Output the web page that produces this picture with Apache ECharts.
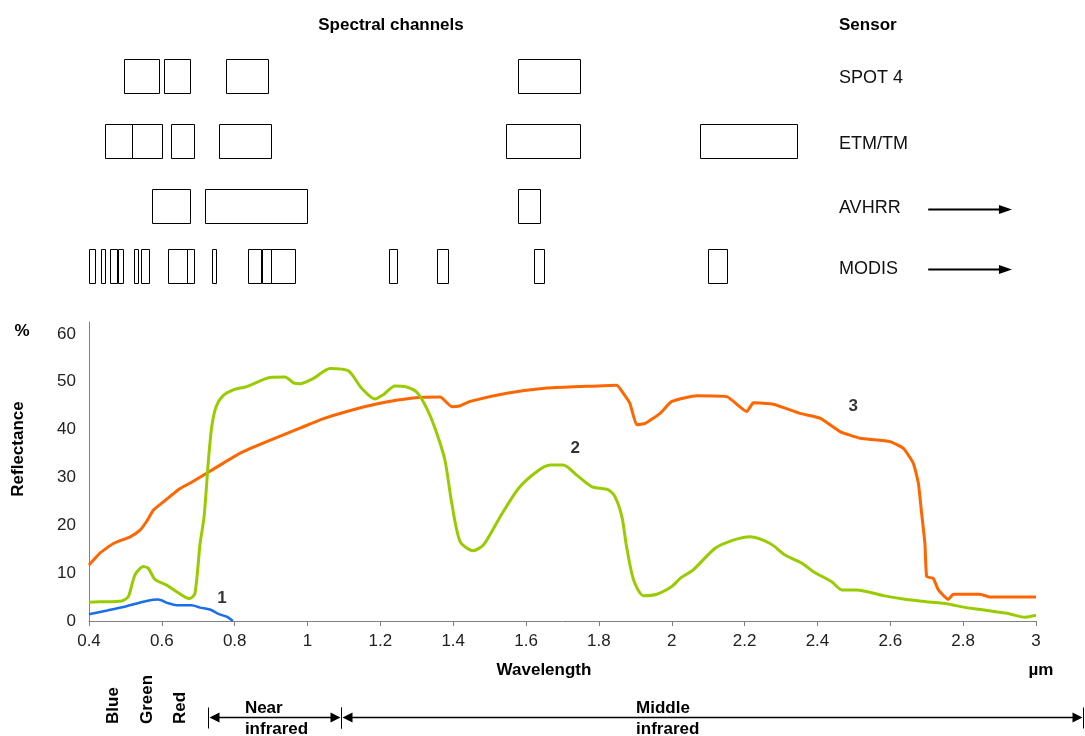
<!DOCTYPE html>
<html>
<head>
<meta charset="utf-8">
<script src="https://cdn.jsdelivr.net/npm/echarts@6/dist/echarts.min.js"></script>
<style>
html, body { margin: 0; padding: 0; background: #fff; }
#main { width: 1085px; height: 736px; }
</style>
</head>
<body>
<div id="main"></div>
<script>
var sensors = ['SPOT 4', 'ETM/TM', 'AVHRR', 'MODIS'];

// spectral channels: [from µm, to µm, sensor row]
var spotChannels = [[0.495, 0.59, 0], [0.607, 0.678, 0], [0.775, 0.89, 0], [1.577, 1.746, 0]];
var etmChannels = [[0.445, 0.519, 1], [0.519, 0.60, 1], [0.626, 0.689, 1], [0.757, 0.899, 1], [1.544, 1.746, 1], [2.078, 2.345, 1]];
var avhrrChannels = [[0.574, 0.678, 2], [0.719, 0.998, 2], [1.577, 1.638, 2]];
var modisChannels = [[0.40, 0.416, 3], [0.434, 0.446, 3], [0.457, 0.476, 3], [0.48, 0.493, 3], [0.523, 0.534, 3],
    [0.542, 0.564, 3], [0.618, 0.669, 3], [0.669, 0.688, 3], [0.739, 0.75, 3], [0.837, 0.874, 3],
    [0.874, 0.899, 3], [0.899, 0.965, 3], [1.225, 1.247, 3], [1.356, 1.385, 3], [1.623, 1.65, 3], [2.10, 2.153, 3]];
// sensors continuing beyond 3 µm: [from, to, row]
var sensorArrows = [[2.704, 2.934, 2], [2.704, 2.934, 3]];
var sensorLabelX = 2.459;

// reflectance curves: [wavelength µm, reflectance %]
var curve1 = [[0.4, 1.4], [0.45, 2.2], [0.503, 3.1], [0.558, 4.2], [0.59, 4.5], [0.618, 3.7], [0.641, 3.3],
    [0.682, 3.3], [0.705, 2.8], [0.732, 2.4], [0.755, 1.5], [0.778, 0.9], [0.795, 0]];
var curve2 = [[0.4, 3.9], [0.43, 4.0], [0.49, 4.2], [0.508, 5.1], [0.526, 9.6], [0.549, 11.4], [0.563, 11.0],
    [0.581, 8.7], [0.613, 7.5], [0.641, 6.1], [0.664, 5.0], [0.677, 4.7], [0.691, 5.8], [0.705, 16.2],
    [0.716, 21.8], [0.728, 33.7], [0.737, 40.6], [0.749, 44.8], [0.767, 47.0], [0.796, 48.3], [0.833, 49.0],
    [0.897, 50.9], [0.938, 51.0], [0.961, 49.8], [0.979, 49.6], [1.016, 50.7], [1.062, 52.8], [1.112, 52.3],
    [1.149, 48.6], [1.185, 46.4], [1.208, 47.3], [1.24, 49.1], [1.272, 48.9], [1.30, 47.8], [1.327, 44.5],
    [1.35, 40.3], [1.377, 33.7], [1.396, 24.6], [1.419, 16.6], [1.455, 14.7], [1.483, 15.9], [1.529, 21.8],
    [1.579, 27.7], [1.629, 31.2], [1.666, 32.6], [1.702, 32.6], [1.739, 30.5], [1.78, 28.1], [1.826, 27.4],
    [1.844, 26.0], [1.863, 21.8], [1.876, 15.5], [1.895, 8.6], [1.922, 5.3], [1.959, 5.6], [2.0, 7.2],
    [2.023, 8.9], [2.059, 10.7], [2.119, 15.2], [2.165, 16.8], [2.215, 17.6], [2.27, 16.2], [2.311, 13.8],
    [2.357, 12.1], [2.389, 10.3], [2.439, 8.2], [2.467, 6.5], [2.508, 6.5], [2.581, 5.3], [2.636, 4.6],
    [2.70, 4.0], [2.755, 3.6], [2.801, 2.9], [2.865, 2.2], [2.92, 1.6], [2.97, 0.8], [3.0, 1.2]];
var curve3 = [[0.4, 11.7], [0.43, 14.2], [0.467, 16.2], [0.513, 17.6], [0.54, 19.0], [0.558, 20.8], [0.577, 23.2],
    [0.604, 24.9], [0.65, 27.7], [0.677, 28.8], [0.723, 30.9], [0.769, 33.0], [0.815, 35.1], [0.888, 37.5],
    [0.979, 40.3], [1.04, 42.2], [1.108, 43.8], [1.199, 45.5], [1.29, 46.6], [1.364, 46.8], [1.396, 44.8],
    [1.419, 45.0], [1.446, 45.9], [1.547, 47.6], [1.657, 48.7], [1.748, 49.0], [1.849, 49.3], [1.867, 47.6],
    [1.885, 45.5], [1.904, 41.0], [1.927, 41.3], [1.968, 43.4], [2.0, 45.9], [2.069, 47.1], [2.151, 46.9],
    [2.206, 43.8], [2.224, 45.6], [2.279, 45.3], [2.352, 43.4], [2.407, 42.4], [2.462, 39.6], [2.517, 38.2],
    [2.599, 37.5], [2.636, 36.1], [2.663, 33.0], [2.677, 28.8], [2.686, 22.5], [2.695, 16.2], [2.70, 9.3],
    [2.718, 8.9], [2.732, 6.5], [2.759, 4.5], [2.773, 5.6], [2.846, 5.6], [2.874, 5.0], [3.0, 5.0]];

var curveLabels = [['1', 0.765, 4.8], ['2', 1.735, 36.2], ['3', 2.498, 44.8]];

// visible-light bands and spectral regions below the axis
var bandNames = ['Blue', 'Green', 'Red'];
var bandCenters = [0.466, 0.559, 0.650];
var regionNames = ['Near\ninfrared', 'Middle\ninfrared'];
var regionSpans = [[0.727, 1.092, 0.828], [1.092, 3.13, 1.902]];

var font = '"Liberation Sans", Arial, sans-serif';
// vertical centre of each sensor row in the upper panel
var rowPos = [0, 1.01, 2.0, 2.93];

var chartDom = document.getElementById('main');
var myChart = echarts.init(chartDom);
var option;

function channelBox(params, api) {
    var row = rowPos[api.value(2)];
    var a = api.coord([api.value(0), row]);
    var b = api.coord([api.value(1), row]);
    var h = 34;
    return {
        type: 'rect',
        shape: { x: Math.round(a[0]) + 0.5, y: Math.round(a[1] - h / 2) + 0.5, width: Math.round(b[0] - a[0]), height: h },
        style: { fill: 'none', stroke: '#000', lineWidth: 1 }
    };
}

function sensorArrow(params, api) {
    var row = rowPos[api.value(2)];
    var a = api.coord([api.value(0), row]);
    var b = api.coord([api.value(1), row]);
    var y = Math.round(a[1]) + 3.5;
    return {
        type: 'group',
        children: [
            { type: 'line', shape: { x1: a[0], y1: y, x2: b[0] - 8, y2: y }, style: { stroke: '#000', lineWidth: 2 } },
            { type: 'polygon', shape: { points: [[b[0], y], [b[0] - 13, y - 4.5], [b[0] - 13, y + 4.5]] }, style: { fill: '#000' } }
        ]
    };
}

function sensorName(params, api) {
    var p = api.coord([api.value(0), rowPos[api.value(1)]]);
    return {
        type: 'text', x: p[0], y: p[1] + 3,
        style: { text: sensors[params.dataIndex], font: '18px ' + font, fill: '#111', align: 'left', verticalAlign: 'middle' }
    };
}

function regionArrow(params, api) {
    var a = api.coord([api.value(0), 0]);
    var b = api.coord([api.value(1), 0]);
    var t = api.coord([api.value(2), 0]);
    var y = Math.round(a[1]) + 96.5;
    var x0 = Math.round(a[0]) + 0.5, x1 = Math.round(b[0]) + 0.5;
    return {
        type: 'group',
        children: [
            { type: 'line', shape: { x1: x0 + 8, y1: y, x2: x1 - 8, y2: y }, style: { stroke: '#000', lineWidth: 1.5 } },
            { type: 'line', shape: { x1: x0, y1: y - 10, x2: x0, y2: y + 11 }, style: { stroke: '#000', lineWidth: 1 } },
            { type: 'line', shape: { x1: x1, y1: y - 10, x2: x1, y2: y + 11 }, style: { stroke: '#000', lineWidth: 1 } },
            { type: 'polygon', shape: { points: [[x0 + 1, y], [x0 + 11, y - 5], [x0 + 11, y + 5]] }, style: { fill: '#000' } },
            { type: 'polygon', shape: { points: [[x1 - 1, y], [x1 - 11, y - 5], [x1 - 11, y + 5]] }, style: { fill: '#000' } },
            {
                type: 'text', x: t[0], y: y + 1,
                style: { text: regionNames[params.dataIndex], font: 'bold 17px ' + font, fill: '#000',
                    align: 'left', verticalAlign: 'middle', lineHeight: 21 }
            }
        ]
    };
}

function bandLabel(params, api) {
    var p = api.coord([api.value(0), 0]);
    return {
        type: 'text', x: p[0], y: Math.round(p[1]) + 103, rotation: Math.PI / 2,
        style: { text: bandNames[params.dataIndex], font: 'bold 17px ' + font, fill: '#000',
            align: 'left', verticalAlign: 'middle' }
    };
}

option = {
    animation: false,
    backgroundColor: '#fff',
    textStyle: { fontFamily: font },
    grid: [
        { left: 89, right: 49, top: 322, bottom: 115 },
        { left: 89, right: 49, top: 43, height: 260 }
    ],
    xAxis: [
        {
            type: 'value', gridIndex: 0, min: 0.4, max: 3, interval: 0.2,
            axisLine: { lineStyle: { color: '#808080', width: 1 } },
            axisTick: { show: true, length: 5, lineStyle: { color: '#808080' } },
            axisLabel: { color: '#222', fontSize: 17, margin: 12, fontFamily: font },
            splitLine: { show: false }
        },
        {
            type: 'value', gridIndex: 1, min: 0.4, max: 3,
            axisLine: { show: false }, axisTick: { show: false }, axisLabel: { show: false }, splitLine: { show: false }
        }
    ],
    yAxis: [
        {
            type: 'value', gridIndex: 0, min: 0, max: 62.5, interval: 10,
            axisLine: { show: true, lineStyle: { color: '#808080', width: 1 } },
            axisTick: { show: false },
            axisLabel: { color: '#222', fontSize: 17, margin: 13, showMaxLabel: false, fontFamily: font },
            splitLine: { show: false }
        },
        {
            type: 'value', gridIndex: 1, min: -0.5, max: 3.5, inverse: true,
            axisLine: { show: false }, axisTick: { show: false }, axisLabel: { show: false }, splitLine: { show: false }
        }
    ],
    graphic: [
        { type: 'text', x: 391, y: 25, style: { text: 'Spectral channels', font: 'bold 17px ' + font, fill: '#000', align: 'center', verticalAlign: 'middle' } },
        { type: 'text', x: 839, y: 25, style: { text: 'Sensor', font: 'bold 17px ' + font, fill: '#000', align: 'left', verticalAlign: 'middle' } },
        { type: 'text', x: 22, y: 331, style: { text: '%', font: 'bold 17px ' + font, fill: '#000', align: 'center', verticalAlign: 'middle' } },
        { type: 'text', x: 18, y: 449, rotation: Math.PI / 2, style: { text: 'Reflectance', font: 'bold 17px ' + font, fill: '#000', align: 'center', verticalAlign: 'middle' } },
        { type: 'text', x: 544, y: 670, style: { text: 'Wavelength', font: 'bold 17px ' + font, fill: '#000', align: 'center', verticalAlign: 'middle' } },
        { type: 'text', x: 1041, y: 670, style: { text: 'µm', font: 'bold 17px ' + font, fill: '#000', align: 'center', verticalAlign: 'middle' } }
    ],
    series: [
        {
            name: 'channels', type: 'custom', xAxisIndex: 1, yAxisIndex: 1,
            renderItem: channelBox, encode: { x: [0, 1], y: 2 },
            data: spotChannels.concat(etmChannels, avhrrChannels, modisChannels)
        },
        {
            name: 'arrows', type: 'custom', xAxisIndex: 1, yAxisIndex: 1,
            renderItem: sensorArrow, encode: { x: [0, 1], y: 2 }, data: sensorArrows
        },
        {
            name: 'sensors', type: 'custom', xAxisIndex: 1, yAxisIndex: 1,
            renderItem: sensorName, encode: { x: 0, y: 1 },
            data: sensors.map(function (s, i) { return [sensorLabelX, i]; })
        },
        {
            name: '3', type: 'line', data: curve3, showSymbol: false, smooth: 0.15,
            lineStyle: { color: '#ff6600', width: 3 }, z: 3
        },
        {
            name: '2', type: 'line', data: curve2, showSymbol: false, smooth: 0.25,
            lineStyle: { color: '#99cc00', width: 3 }, z: 4
        },
        {
            name: '1', type: 'line', data: curve1, showSymbol: false, smooth: 0.25,
            lineStyle: { color: '#1a6ee8', width: 2.5 }, z: 5
        },
        {
            name: 'labels', type: 'scatter', symbolSize: 0,
            data: curveLabels.map(function (d) { return { name: d[0], value: [d[1], d[2]] }; }),
            label: { show: true, position: 'inside', formatter: '{b}', color: '#000', fontWeight: 'bold', fontSize: 17, fontFamily: font }
        },
        {
            name: 'bands', type: 'custom', clip: false, renderItem: bandLabel, encode: { x: 0, y: 1 },
            data: bandCenters.map(function (c) { return [c, 0]; })
        },
        {
            name: 'regions', type: 'custom', clip: false, renderItem: regionArrow, encode: { x: [0, 1, 2] },
            data: regionSpans
        }
    ]
};

option && myChart.setOption(option);

window.addEventListener('resize', function () {
    myChart.resize();
});
</script>
</body>
</html>
